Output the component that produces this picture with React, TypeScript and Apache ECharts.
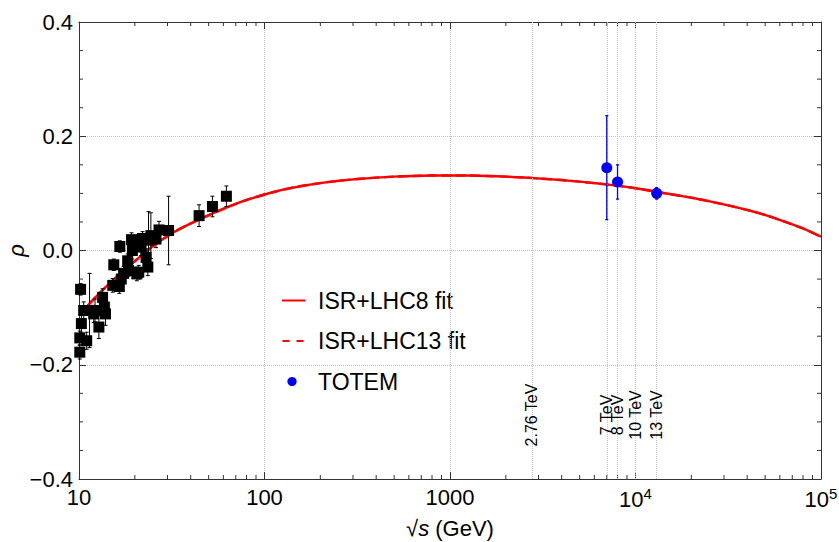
import React, { useEffect, useRef } from "react";
import * as echarts from "echarts";

// ---- data ----
const xMin = 10;
const xMax = 100000;
const yMin = -0.4;
const yMax = 0.4;

const curveSqrtS = [10, 12.59, 15.85, 19.95, 25.12, 31.62, 39.81, 50.12, 63.1, 79.43, 100, 125.9, 158.5, 199.5, 251.2, 316.2, 398.1, 501.2, 631, 794.3, 1000, 1259, 1585, 1995, 2512, 3162, 3981, 5012, 6310, 7943, 10000, 12590, 15850, 19950, 25120, 31620, 39810, 50120, 63100, 79430, 100000];
const fitLHC8 = [-0.113, -0.078, -0.047, -0.019, 0.008, 0.03, 0.047, 0.062, 0.076, 0.088, 0.098, 0.1065, 0.113, 0.118, 0.122, 0.1251, 0.1275, 0.1293, 0.1305, 0.1312, 0.1314, 0.1312, 0.1305, 0.1293, 0.1277, 0.1257, 0.1233, 0.1205, 0.1172, 0.1135, 0.109, 0.1035, 0.098, 0.0925, 0.086, 0.079, 0.071, 0.062, 0.051, 0.039, 0.024];
const fitLHC13 = [-0.113, -0.078, -0.047, -0.019, 0.008, 0.03, 0.047, 0.062, 0.076, 0.088, 0.098, 0.1065, 0.113, 0.118, 0.122, 0.1251, 0.1275, 0.1293, 0.1305, 0.1312, 0.1314, 0.1312, 0.1305, 0.1293, 0.1277, 0.1257, 0.1233, 0.1205, 0.1172, 0.1135, 0.109, 0.1035, 0.098, 0.0925, 0.086, 0.079, 0.071, 0.062, 0.051, 0.039, 0.024];

const dataSqrtS = [10.2, 10.1, 10.1, 10.3, 10.6, 11.0, 11.4, 12.0, 12.2, 12.8, 13.4, 13.7, 13.9, 15.2, 15.4, 16.5, 16.6, 16.9, 17.4, 18.3, 18.5, 19.2, 19.4, 20.5, 21.0, 21.6, 22.0, 23.0, 23.5, 23.7, 24.4, 26.0, 27.0, 30.4, 44.4, 52.4, 62.3];
const dataRho = [-0.068, -0.153, -0.178, -0.128, -0.105, -0.158, -0.105, -0.111, -0.105, -0.134, -0.082, -0.099, -0.111, -0.061, -0.025, -0.063, 0.007, -0.05, -0.04, -0.018, -0.035, 0.019, 0.0, -0.041, -0.038, 0.006, 0.021, -0.012, -0.029, 0.018, 0.026, 0.02, 0.036, 0.035, 0.061, 0.077, 0.095];
const dataErr = [0.01, 0.012, 0.012, 0.015, 0.015, 0.015, 0.065, 0.015, 0.02, 0.02, 0.015, 0.02, 0.02, 0.012, 0.01, 0.012, 0.01, 0.01, 0.012, 0.012, 0.01, 0.012, 0.015, 0.012, 0.012, 0.015, 0.012, 0.015, 0.015, 0.05, 0.04, 0.015, 0.015, 0.06, 0.019, 0.018, 0.018];

const totemSqrtS = [7000, 8000, 13000];
const totemRho = [0.145, 0.12, 0.1];
const totemErr = [0.091, 0.03, 0.01];

const energyLines = [2760, 7000, 8000, 10000, 13000];
const energyLabels = ["2.76 TeV", "7 TeV", "8 TeV", "10 TeV", "13 TeV"];

const xMinorMultipliers = [2, 3, 4, 5, 6, 7, 8, 9];
const xMinorDecades = [10, 100, 1000, 10000];
const yMinorTicks = [-0.35, -0.3, -0.25, -0.15, -0.1, -0.05, 0.05, 0.1, 0.15, 0.25, 0.3, 0.35];

const legendLabels = ["ISR+LHC8 fit", "ISR+LHC13 fit", "TOTEM"];

const FONT = "Liberation Sans";
const RED = "#ff0000";
const BLUE = "#0000ff";
const FRAME = "#333333";
const GRID = "#c4c4c4";

export default function App() {
  const ref = useRef<HTMLDivElement>(null);

  useEffect(() => {
    document.body.style.margin = "0";
    if (!ref.current) return;
    const chart = echarts.init(ref.current, undefined, { renderer: "svg" });

    const xMinor: number[][] = [];
    xMinorDecades.forEach((d) => xMinorMultipliers.forEach((m) => xMinor.push([m * d, yMin])));

    const errRender = (color: string, width: number, cap: number) => (params: any, api: any) => {
      const x = api.value(0);
      const y = api.value(1);
      const e = api.value(2);
      const top = api.coord([x, y + e]);
      const bot = api.coord([x, y - e]);
      const st = { stroke: color, lineWidth: width };
      return {
        type: "group",
        children: [
          { type: "line", shape: { x1: top[0], y1: top[1], x2: bot[0], y2: bot[1] }, style: st },
          { type: "line", shape: { x1: top[0] - cap, y1: top[1], x2: top[0] + cap, y2: top[1] }, style: st },
          { type: "line", shape: { x1: bot[0] - cap, y1: bot[1], x2: bot[0] + cap, y2: bot[1] }, style: st },
        ],
      };
    };

    const legendGraphics: any[] = [
      { id: "lg1", type: "line", shape: { x1: 282, y1: 300.5, x2: 305, y2: 300.5 }, style: { stroke: RED, lineWidth: 2 } },
      { id: "lt1", type: "text", x: 318, y: 300.5, style: { text: legendLabels[0], fontSize: 23, fontFamily: FONT, fill: "#000", verticalAlign: "middle", align: "left" } },
      { id: "lg2a", type: "line", shape: { x1: 282.5, y1: 341, x2: 289.5, y2: 341 }, style: { stroke: RED, lineWidth: 2 } },
      { id: "lg2b", type: "line", shape: { x1: 296.5, y1: 341, x2: 303.5, y2: 341 }, style: { stroke: RED, lineWidth: 2 } },
      { id: "lt2", type: "text", x: 318, y: 341, style: { text: legendLabels[1], fontSize: 23, fontFamily: FONT, fill: "#000", verticalAlign: "middle", align: "left" } },
      { id: "lg3", type: "circle", shape: { cx: 292, cy: 381.5, r: 4.6 }, style: { fill: BLUE } },
      { id: "lt3", type: "text", x: 318, y: 381.5, style: { text: legendLabels[2], fontSize: 23, fontFamily: FONT, fill: "#000", verticalAlign: "middle", align: "left" } },
    ];

    const xLabelFmt = (v: number) => {
      const e = Math.round(Math.log10(v));
      if (e <= 3) return String(Math.round(Math.pow(10, e)));
      return `{b|10}{s|${e}}`;
    };
    const yLabelFmt = (v: number) => {
      if (Math.abs(v) < 1e-9) return "0.0";
      return (v < 0 ? "\u2212" : "") + Math.abs(v).toFixed(1);
    };

    chart.setOption({
      animation: false,
      grid: { left: 79, right: 18, top: 22, bottom: 63, containLabel: false, outerBoundsMode: "none" },
      xAxis: [
        {
          type: "log",
          logBase: 10,
          min: xMin,
          max: xMax,
          position: "bottom",
          axisLine: { show: true, onZero: false, lineStyle: { color: FRAME, width: 1 } },
          axisTick: { show: true, inside: true, length: 7, lineStyle: { color: FRAME } },
          minorTick: { show: false },
          axisLabel: {
            formatter: xLabelFmt,
            color: "#000",
            fontSize: 22,
            fontFamily: FONT,
            margin: 7,
            rich: {
              b: { fontSize: 22, fontFamily: FONT, color: "#000" },
              s: { fontSize: 15, fontFamily: FONT, color: "#000", verticalAlign: "bottom", padding: [0, 0, 12, 0] },
            },
          },
          splitLine: { show: true, lineStyle: { color: GRID, type: "dotted", width: 1 } },
          name: "{r|\u221A}{i|s}{n| (GeV)}",
          nameLocation: "middle",
          nameGap: 38,
          nameMoveOverlap: false,
          nameTextStyle: {
            rich: {
              r: { fontSize: 22, fontFamily: FONT, color: "#000" },
              i: { fontSize: 22, fontFamily: FONT, fontStyle: "italic", color: "#000" },
              n: { fontSize: 22, fontFamily: FONT, color: "#000" },
            },
          },
        },
        {
          type: "log",
          logBase: 10,
          min: xMin,
          max: xMax,
          position: "top",
          axisLine: { show: true, onZero: false, lineStyle: { color: FRAME, width: 1 } },
          axisTick: { show: true, inside: true, length: 7, lineStyle: { color: FRAME } },
          axisLabel: { show: false },
          splitLine: { show: false },
        },
      ],
      yAxis: [
        {
          type: "value",
          min: yMin,
          max: yMax,
          interval: 0.2,
          position: "left",
          axisLine: { show: true, onZero: false, lineStyle: { color: FRAME, width: 1 } },
          axisTick: { show: true, inside: true, length: 7, lineStyle: { color: FRAME } },
          axisLabel: { formatter: yLabelFmt, color: "#000", fontSize: 22, fontFamily: FONT, margin: 6 },
          splitLine: { show: true, lineStyle: { color: GRID, type: "dotted", width: 1 } },
          name: "\u03C1",
          nameLocation: "middle",
          nameGap: 52,
          nameRotate: 90,
          nameMoveOverlap: false,
          nameTextStyle: { fontSize: 22, fontFamily: FONT, fontStyle: "italic", color: "#000" },
        },
        {
          type: "value",
          min: yMin,
          max: yMax,
          interval: 0.2,
          position: "right",
          axisLine: { show: true, onZero: false, lineStyle: { color: FRAME, width: 1 } },
          axisTick: { show: true, inside: true, length: 7, lineStyle: { color: FRAME } },
          axisLabel: { show: false },
          splitLine: { show: false },
        },
      ],
      graphic: legendGraphics,
      series: [
        {
          name: "energy lines",
          type: "line",
          data: [],
          silent: true,
          z: 1,
          markLine: {
            silent: true,
            symbol: "none",
            label: { show: false },
            lineStyle: { color: GRID, type: "dotted", width: 1 },
            data: energyLines.map((v) => ({ xAxis: v })),
          },
        },
        {
          name: "minor x ticks",
          type: "custom",
          silent: true,
          z: 3,
          data: xMinor,
          encode: { x: 0, y: 1 },
          renderItem: (params: any, api: any) => {
            const v = api.value(0);
            const b = api.coord([v, yMin]);
            const t = api.coord([v, yMax]);
            const st = { stroke: FRAME, lineWidth: 1 };
            return {
              type: "group",
              children: [
                { type: "line", shape: { x1: b[0], y1: b[1], x2: b[0], y2: b[1] - 4 }, style: st },
                { type: "line", shape: { x1: t[0], y1: t[1], x2: t[0], y2: t[1] + 4 }, style: st },
              ],
            };
          },
        },
        {
          name: "minor y ticks",
          type: "custom",
          silent: true,
          z: 3,
          data: yMinorTicks.map((v) => [xMin, v]),
          encode: { x: 0, y: 1 },
          renderItem: (params: any, api: any) => {
            const v = api.value(1);
            const l = api.coord([xMin, v]);
            const r = api.coord([xMax, v]);
            const st = { stroke: FRAME, lineWidth: 1 };
            return {
              type: "group",
              children: [
                { type: "line", shape: { x1: l[0], y1: l[1], x2: l[0] + 4, y2: l[1] }, style: st },
                { type: "line", shape: { x1: r[0], y1: r[1], x2: r[0] - 4, y2: r[1] }, style: st },
              ],
            };
          },
        },
        {
          name: "ISR+LHC8 fit",
          type: "line",
          smooth: 0.2,
          symbol: "none",
          z: 4,
          data: curveSqrtS.map((x, i) => [x, fitLHC8[i]]),
          lineStyle: { color: RED, width: 2.4 },
        },
        {
          name: "ISR+LHC13 fit",
          type: "line",
          smooth: 0.2,
          symbol: "none",
          z: 4,
          data: curveSqrtS.map((x, i) => [x, fitLHC13[i]]),
          lineStyle: { color: RED, width: 2.4, type: "dashed" },
        },
        {
          name: "data errors",
          type: "custom",
          z: 5,
          data: dataSqrtS.map((x, i) => [x, dataRho[i], dataErr[i]]),
          encode: { x: 0, y: 1 },
          renderItem: errRender("#000", 1, 2),
        },
        {
          name: "data",
          type: "scatter",
          symbol: "rect",
          symbolSize: 11,
          z: 6,
          data: dataSqrtS.map((x, i) => [x, dataRho[i]]),
          itemStyle: { color: "#000", opacity: 1 },
        },
        {
          name: "TOTEM errors",
          type: "custom",
          z: 7,
          data: totemSqrtS.map((x, i) => [x, totemRho[i], totemErr[i]]),
          encode: { x: 0, y: 1 },
          renderItem: errRender(BLUE, 1.3, 1.5),
        },
        {
          name: "TOTEM",
          type: "scatter",
          symbol: "circle",
          symbolSize: 11,
          z: 8,
          data: totemSqrtS.map((x, i) => [x, totemRho[i]]),
          itemStyle: { color: BLUE, opacity: 1 },
        },
      ],
    });

    const energyGraphics = energyLines.map((v, i) => {
      const px = chart.convertToPixel({ xAxisIndex: 0 }, v) as number;
      return {
        id: "el" + i,
        type: "text",
        x: px,
        y: 415,
        rotation: Math.PI / 2,
        style: {
          text: energyLabels[i],
          fontSize: 16,
          fontFamily: FONT,
          fill: "#000",
          align: "center",
          verticalAlign: "middle",
        },
        z: 10,
      };
    });
    chart.setOption({ graphic: [...legendGraphics, ...energyGraphics] });

    return () => chart.dispose();
  }, []);

  return <div ref={ref} style={{ width: 839, height: 542 }} />;
}
